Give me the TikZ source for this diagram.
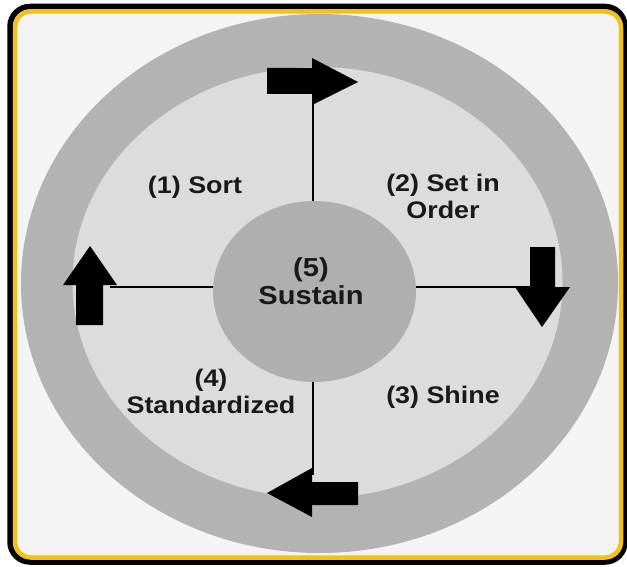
\documentclass[tikz,border=0pt]{standalone}
\usepackage{fontspec}
\setmainfont{Liberation Sans}
\usetikzlibrary{shapes.geometric}

\definecolor{framegold}{HTML}{F2C21B}
\definecolor{pagebg}{HTML}{F4F4F4}
\definecolor{ringgray}{HTML}{B3B3B3}
\definecolor{fieldgray}{HTML}{DCDCDC}
\definecolor{hubgray}{HTML}{AFAFAF}

\tikzset{
  stagetext/.style={font=\bfseries\fontsize{24}{27}\selectfont, text=black!90,
    align=center, xscale=1.12, inner sep=0pt},
  blockarrow/.style={fill=black},
  spoke/.style={black, line width=2.2pt},
}

\begin{document}
\begin{tikzpicture}[x=1pt,y=-1pt]
\useasboundingbox (0,0) rectangle (627,567);
% frame and rings
\fill[pagebg, rounded corners=16] (15,11.5) rectangle (621,557.5);
\fill[ringgray] (319.5,283.5) ellipse [x radius=298.5, y radius=269.5];
\fill[fieldgray] (317.5,282.5) ellipse [x radius=245, y radius=215.5];
\draw[black, line width=5.5pt, rounded corners=20] (10,6.5) rectangle (625,562);
\draw[framegold, line width=4.5pt, rounded corners=16] (15,11.5) rectangle (621,557.5);

% hub
\node[ellipse, fill=hubgray, minimum width=203pt, minimum height=181pt, inner sep=0pt] (hub) at (314.5,291.5) {};

% spokes
\coordinate (topend) at (313,100);
\coordinate (rightend) at (535,287);
\coordinate (bottomend) at (313,475);
\coordinate (leftend) at (110,287);
\draw[spoke] (topend) -- (topend |- hub.north);
\draw[spoke] (bottomend) -- (bottomend |- hub.south);
\draw[spoke] (rightend) -- (rightend -| hub.east);
\draw[spoke] (leftend) -- (leftend -| hub.west);

% block arrows
\fill[blockarrow] (267,68) -- (312,68) -- (312,58) -- (358,82) -- (312,105) -- (312,94) -- (267,94) -- cycle;
\fill[blockarrow] (530,247) -- (555,247) -- (555,287) -- (570,287) -- (542,327) -- (515,287) -- (530,287) -- cycle;
\fill[blockarrow] (267,493) -- (312,468) -- (312,482) -- (358,482) -- (358,505) -- (312,505) -- (312,517) -- cycle;
\fill[blockarrow] (90,246) -- (117,285) -- (103,285) -- (103,325) -- (76,325) -- (76,285) -- (63,285) -- cycle;

% stage labels
\node[stagetext] (sort) at (195,187) {(1) Sort};
\node[stagetext] (order) at (443,196) {(2) Set in\\Order};
\node[stagetext] (shine) at (443,397) {(3) Shine};
\node[stagetext] (standard) at (211,391) {(4)\\Standardized};
\node[stagetext, font=\bfseries\fontsize{26}{28}\selectfont] (sustain) at (311,281) {(5)\\Sustain};

\end{tikzpicture}
\end{document}
